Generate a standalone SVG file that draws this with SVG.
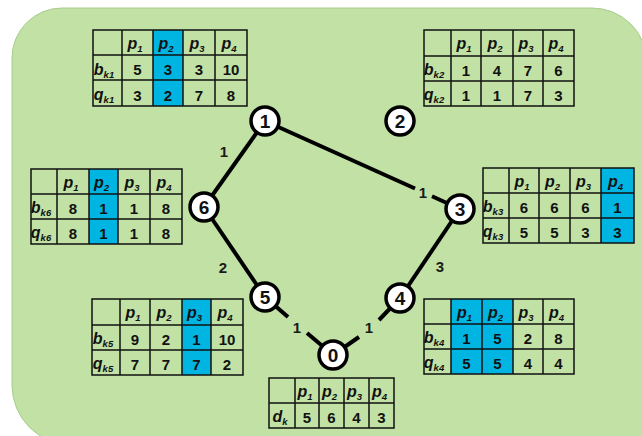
<svg xmlns="http://www.w3.org/2000/svg" width="642" height="436" viewBox="0 0 642 436">
<style>
.bg{fill:#c1e1a5;stroke:#a9cc8c;stroke-width:1}
.hl{fill:#00b5e2}
.grid{fill:none;stroke:#111;stroke-width:1.5}
.t{font-family:"Liberation Sans",Arial,sans-serif;font-weight:bold;fill:#111;text-anchor:middle}
.n{font-size:15px}
.p{font-size:16px;font-style:italic}
.s{font-size:9.5px;font-style:italic}
.edge{stroke:#000;stroke-width:4;stroke-linecap:butt}
.node circle{fill:#fff;stroke:#000;stroke-width:3.5}
.nt{font-size:19px}
.el{font-size:15px;fill:#1a1a1a}
</style>
<path class="bg" d="M62,8 H592 A55,55 0 0 1 647,63 V445 H72 A60,60 0 0 1 12,385 V58 A50,50 0 0 1 62,8 Z"/>

<g id="connectors">
<line class="edge" x1="265" y1="121" x2="204" y2="207"/>
<line class="edge" x1="204" y1="207" x2="265" y2="297"/>
<line class="edge" x1="265" y1="121" x2="415" y2="188.5"/>
<line class="edge" x1="432" y1="196.2" x2="460" y2="209"/>
<line class="edge" x1="460" y1="209" x2="400" y2="298"/>
<line class="edge" x1="265" y1="297" x2="288" y2="317"/>
<line class="edge" x1="307" y1="333" x2="333" y2="355"/>
<line class="edge" x1="400" y1="298" x2="379" y2="320"/>
<line class="edge" x1="359" y1="337" x2="333" y2="355"/>
<text class="t el" x="224" y="157">1</text>
<text class="t el" x="423" y="197.5">1</text>
<text class="t el" x="223" y="273">2</text>
<text class="t el" x="440" y="272">3</text>
<text class="t el" x="297" y="332.5">1</text>
<text class="t el" x="369" y="332.5">1</text>
</g>

<g id="node1" class="node"><circle cx="265" cy="121" r="14"/><text class="t nt" x="265" y="128">1</text></g>
<g id="node2" class="node"><circle cx="400" cy="121" r="14"/><text class="t nt" x="400" y="128">2</text></g>
<g id="node3" class="node"><circle cx="460" cy="209" r="14"/><text class="t nt" x="460" y="216">3</text></g>
<g id="node4" class="node"><circle cx="400" cy="298" r="14"/><text class="t nt" x="400" y="305">4</text></g>
<g id="node5" class="node"><circle cx="265" cy="297" r="14"/><text class="t nt" x="265" y="304">5</text></g>
<g id="node6" class="node"><circle cx="204" cy="207" r="14"/><text class="t nt" x="204" y="214">6</text></g>
<g id="node0" class="node"><circle cx="333" cy="355" r="14"/><text class="t nt" x="333" y="362">0</text></g>

<g id="table-k1">
<rect class="hl" x="153" y="30" width="30" height="76"/>
<path class="grid" d="M93,30H247V106H93Z M93,55H247 M93,80H247 M122,30V106 M153,30V106 M183,30V106 M215,30V106"/>
<text class="t" y="49"><tspan class="p" x="135">p</tspan><tspan class="s" dy="3">1</tspan></text>
<text class="t" y="49"><tspan class="p" x="166">p</tspan><tspan class="s" dy="3">2</tspan></text>
<text class="t" y="49"><tspan class="p" x="197">p</tspan><tspan class="s" dy="3">3</tspan></text>
<text class="t" y="49"><tspan class="p" x="229">p</tspan><tspan class="s" dy="3">4</tspan></text>
<text class="t" y="74.5"><tspan class="p" x="104">b</tspan><tspan class="s" dy="3">k1</tspan></text>
<text class="t" y="100"><tspan class="p" x="104">q</tspan><tspan class="s" dy="3">k1</tspan></text>
<text class="t n" y="75"><tspan x="137.5">5</tspan><tspan x="168">3</tspan><tspan x="199">3</tspan><tspan x="231">10</tspan></text>
<text class="t n" y="100.5"><tspan x="137.5">3</tspan><tspan x="168">2</tspan><tspan x="199">7</tspan><tspan x="231">8</tspan></text>
</g>

<g id="table-k2">
<path class="grid" d="M424,30H574V106H424Z M424,56H574 M424,81H574 M451,30V106 M481,30V106 M513,30V106 M543,30V106"/>
<text class="t" y="49"><tspan class="p" x="464">p</tspan><tspan class="s" dy="3">1</tspan></text>
<text class="t" y="49"><tspan class="p" x="495">p</tspan><tspan class="s" dy="3">2</tspan></text>
<text class="t" y="49"><tspan class="p" x="526">p</tspan><tspan class="s" dy="3">3</tspan></text>
<text class="t" y="49"><tspan class="p" x="556">p</tspan><tspan class="s" dy="3">4</tspan></text>
<text class="t" y="75"><tspan class="p" x="434">b</tspan><tspan class="s" dy="3">k2</tspan></text>
<text class="t" y="100"><tspan class="p" x="434">q</tspan><tspan class="s" dy="3">k2</tspan></text>
<text class="t n" y="75.5"><tspan x="466">1</tspan><tspan x="497">4</tspan><tspan x="528">7</tspan><tspan x="558.5">6</tspan></text>
<text class="t n" y="100.5"><tspan x="466">1</tspan><tspan x="497">1</tspan><tspan x="528">7</tspan><tspan x="558.5">3</tspan></text>
</g>

<g id="table-k6">
<rect class="hl" x="89" y="169" width="29" height="75"/>
<path class="grid" d="M31,169H182V244H31Z M31,194H182 M31,219H182 M57,169V244 M89,169V244 M118,169V244 M150,169V244"/>
<text class="t" y="188"><tspan class="p" x="71">p</tspan><tspan class="s" dy="3">1</tspan></text>
<text class="t" y="188"><tspan class="p" x="101.5">p</tspan><tspan class="s" dy="3">2</tspan></text>
<text class="t" y="188"><tspan class="p" x="132">p</tspan><tspan class="s" dy="3">3</tspan></text>
<text class="t" y="188"><tspan class="p" x="164">p</tspan><tspan class="s" dy="3">4</tspan></text>
<text class="t" y="213"><tspan class="p" x="41">b</tspan><tspan class="s" dy="3">k6</tspan></text>
<text class="t" y="238"><tspan class="p" x="41">q</tspan><tspan class="s" dy="3">k6</tspan></text>
<text class="t n" y="213.5"><tspan x="73">8</tspan><tspan x="103.5">1</tspan><tspan x="134">1</tspan><tspan x="166">8</tspan></text>
<text class="t n" y="238.5"><tspan x="73">8</tspan><tspan x="103.5">1</tspan><tspan x="134">1</tspan><tspan x="166">8</tspan></text>
</g>

<g id="table-k3">
<rect class="hl" x="601" y="168" width="33" height="75"/>
<path class="grid" d="M483,168H634V243H483Z M483,193H634 M483,218H634 M509,168V243 M539,168V243 M570,168V243 M601,168V243"/>
<text class="t" y="187"><tspan class="p" x="522">p</tspan><tspan class="s" dy="3">1</tspan></text>
<text class="t" y="187"><tspan class="p" x="552.5">p</tspan><tspan class="s" dy="3">2</tspan></text>
<text class="t" y="187"><tspan class="p" x="583.5">p</tspan><tspan class="s" dy="3">3</tspan></text>
<text class="t" y="187"><tspan class="p" x="615.5">p</tspan><tspan class="s" dy="3">4</tspan></text>
<text class="t" y="212"><tspan class="p" x="493">b</tspan><tspan class="s" dy="3">k3</tspan></text>
<text class="t" y="237"><tspan class="p" x="493">q</tspan><tspan class="s" dy="3">k3</tspan></text>
<text class="t n" y="212.5"><tspan x="524">6</tspan><tspan x="554.5">6</tspan><tspan x="585.5">6</tspan><tspan x="617.5">1</tspan></text>
<text class="t n" y="237.5"><tspan x="524">5</tspan><tspan x="554.5">5</tspan><tspan x="585.5">3</tspan><tspan x="617.5">3</tspan></text>
</g>

<g id="table-k5">
<rect class="hl" x="182" y="299" width="29" height="76"/>
<path class="grid" d="M92,299H243V375H92Z M92,325H243 M92,350H243 M120,299V375 M150,299V375 M182,299V375 M211,299V375"/>
<text class="t" y="318"><tspan class="p" x="133">p</tspan><tspan class="s" dy="3">1</tspan></text>
<text class="t" y="318"><tspan class="p" x="164">p</tspan><tspan class="s" dy="3">2</tspan></text>
<text class="t" y="318"><tspan class="p" x="194.5">p</tspan><tspan class="s" dy="3">3</tspan></text>
<text class="t" y="318"><tspan class="p" x="225">p</tspan><tspan class="s" dy="3">4</tspan></text>
<text class="t" y="344"><tspan class="p" x="103">b</tspan><tspan class="s" dy="3">k5</tspan></text>
<text class="t" y="369"><tspan class="p" x="103">q</tspan><tspan class="s" dy="3">k5</tspan></text>
<text class="t n" y="344.5"><tspan x="135">9</tspan><tspan x="166">2</tspan><tspan x="196.5">1</tspan><tspan x="227">10</tspan></text>
<text class="t n" y="369.5"><tspan x="135">7</tspan><tspan x="166">7</tspan><tspan x="196.5">7</tspan><tspan x="227">2</tspan></text>
</g>

<g id="table-k4">
<rect class="hl" x="451" y="299" width="62" height="75"/>
<path class="grid" d="M424,299H574V374H424Z M424,324H574 M424,349H574 M451,299V374 M482,299V374 M513,299V374 M543,299V374"/>
<text class="t" y="318"><tspan class="p" x="464.5">p</tspan><tspan class="s" dy="3">1</tspan></text>
<text class="t" y="318"><tspan class="p" x="495.5">p</tspan><tspan class="s" dy="3">2</tspan></text>
<text class="t" y="318"><tspan class="p" x="526">p</tspan><tspan class="s" dy="3">3</tspan></text>
<text class="t" y="318"><tspan class="p" x="556.5">p</tspan><tspan class="s" dy="3">4</tspan></text>
<text class="t" y="343"><tspan class="p" x="434">b</tspan><tspan class="s" dy="3">k4</tspan></text>
<text class="t" y="368"><tspan class="p" x="434">q</tspan><tspan class="s" dy="3">k4</tspan></text>
<text class="t n" y="343.5"><tspan x="466.5">1</tspan><tspan x="497.5">5</tspan><tspan x="528">2</tspan><tspan x="558.5">8</tspan></text>
<text class="t n" y="368.5"><tspan x="466.5">5</tspan><tspan x="497.5">5</tspan><tspan x="528">4</tspan><tspan x="558.5">4</tspan></text>
</g>

<g id="table-dk">
<path class="grid" d="M269,378H394V428H269Z M269,403H394 M295,378V428 M319,378V428 M344,378V428 M369,378V428"/>
<text class="t" y="397"><tspan class="p" x="305">p</tspan><tspan class="s" dy="3">1</tspan></text>
<text class="t" y="397"><tspan class="p" x="329.5">p</tspan><tspan class="s" dy="3">2</tspan></text>
<text class="t" y="397"><tspan class="p" x="354.5">p</tspan><tspan class="s" dy="3">3</tspan></text>
<text class="t" y="397"><tspan class="p" x="379.5">p</tspan><tspan class="s" dy="3">4</tspan></text>
<text class="t" y="422"><tspan class="p" x="280">d</tspan><tspan class="s" dy="3">k</tspan></text>
<text class="t n" y="422.5"><tspan x="307">5</tspan><tspan x="331.5">6</tspan><tspan x="356.5">4</tspan><tspan x="381.5">3</tspan></text>
</g>
</svg>
